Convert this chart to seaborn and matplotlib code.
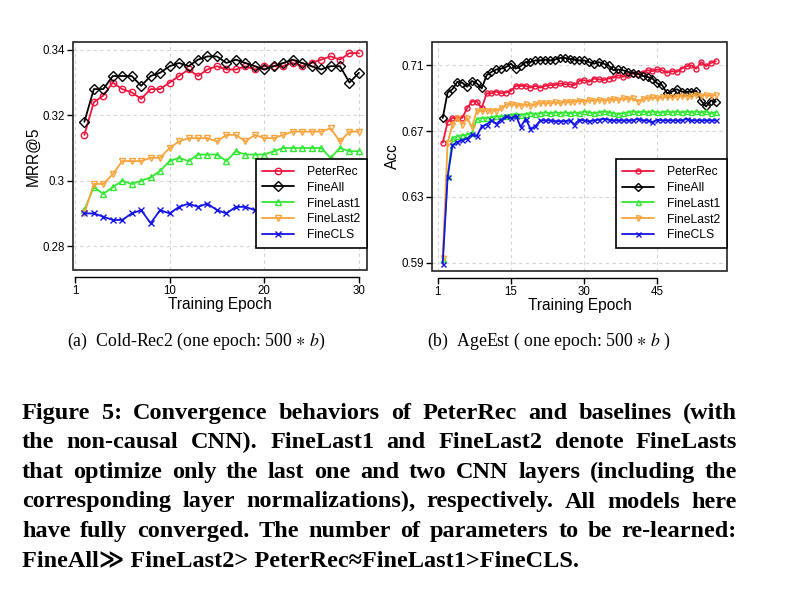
import numpy as np
import pandas as pd
import matplotlib
matplotlib.use('Agg')
import matplotlib.pyplot as plt
from matplotlib.patches import Rectangle
import seaborn as sns

# ---- data ----
models = ['PeterRec', 'FineAll', 'FineLast1', 'FineLast2', 'FineCLS']

cold_epochs = list(range(1, 31))
cold_peterrec = [0.314, 0.324, 0.326, 0.330, 0.328, 0.327, 0.325, 0.328, 0.328, 0.330,
                 0.332, 0.334, 0.332, 0.334, 0.335, 0.334, 0.334, 0.335, 0.334, 0.335,
                 0.335, 0.335, 0.336, 0.335, 0.336, 0.337, 0.338, 0.337, 0.339, 0.339]
cold_fineall = [0.318, 0.328, 0.328, 0.332, 0.332, 0.332, 0.329, 0.332, 0.333, 0.335,
                0.336, 0.335, 0.337, 0.338, 0.338, 0.336, 0.337, 0.336, 0.335, 0.334,
                0.335, 0.336, 0.337, 0.336, 0.335, 0.334, 0.335, 0.335, 0.330, 0.333]
cold_finelast1 = [0.291, 0.298, 0.296, 0.298, 0.300, 0.299, 0.300, 0.301, 0.303, 0.306,
                  0.307, 0.306, 0.308, 0.308, 0.308, 0.306, 0.309, 0.308, 0.308, 0.308,
                  0.309, 0.310, 0.310, 0.310, 0.310, 0.310, 0.307, 0.310, 0.309, 0.309]
cold_finelast2 = [0.290, 0.299, 0.299, 0.302, 0.306, 0.306, 0.306, 0.307, 0.307, 0.310,
                  0.312, 0.313, 0.313, 0.313, 0.312, 0.314, 0.314, 0.312, 0.314, 0.313,
                  0.313, 0.314, 0.315, 0.315, 0.315, 0.315, 0.316, 0.312, 0.315, 0.315]
cold_finecls = [0.290, 0.290, 0.289, 0.288, 0.288, 0.290, 0.291, 0.287, 0.291, 0.290,
                0.292, 0.293, 0.292, 0.293, 0.291, 0.290, 0.292, 0.292, 0.291, 0.292,
                0.291, 0.292, 0.291, 0.292, 0.292, 0.291, 0.292, 0.292, 0.291, 0.292]

age_epochs = list(range(1, 58))
age_peterrec = [0.663, 0.6755, 0.678, 0.678, 0.678, 0.684, 0.688, 0.688, 0.684, 0.693,
                0.693, 0.694, 0.693, 0.6935, 0.6945, 0.6975, 0.6975, 0.6975, 0.6965, 0.6975,
                0.6965, 0.6975, 0.698, 0.698, 0.699, 0.6985, 0.6985, 0.698, 0.7005, 0.701,
                0.700, 0.702, 0.7015, 0.701, 0.702, 0.7025, 0.704, 0.703, 0.704, 0.705,
                0.7045, 0.7055, 0.707, 0.7065, 0.7075, 0.707, 0.7055, 0.7065, 0.706, 0.708,
                0.7095, 0.710, 0.708, 0.712, 0.7095, 0.7115, 0.7125]
age_fineall = [0.678, 0.6935, 0.6955, 0.700, 0.6995, 0.697, 0.7005, 0.699, 0.696, 0.704,
               0.706, 0.7075, 0.708, 0.709, 0.711, 0.708, 0.7095, 0.712, 0.712, 0.713,
               0.713, 0.7135, 0.713, 0.7135, 0.7145, 0.7145, 0.714, 0.7135, 0.713, 0.713,
               0.712, 0.711, 0.712, 0.711, 0.710, 0.707, 0.7075, 0.707, 0.706, 0.7055,
               0.705, 0.7035, 0.703, 0.702, 0.699, 0.698, 0.693, 0.694, 0.6955, 0.694,
               0.694, 0.694, 0.6945, 0.6885, 0.685, 0.6885, 0.688]
age_finelast1 = [0.5925, 0.6425, 0.666, 0.667, 0.6675, 0.668, 0.669, 0.6775, 0.678, 0.678,
                 0.6785, 0.679, 0.679, 0.6795, 0.680, 0.6805, 0.680, 0.6805, 0.681, 0.6805,
                 0.681, 0.6815, 0.681, 0.6815, 0.681, 0.6815, 0.681, 0.6815, 0.681, 0.682,
                 0.6815, 0.681, 0.6815, 0.682, 0.6815, 0.681, 0.6805, 0.681, 0.6815, 0.682,
                 0.6815, 0.682, 0.6815, 0.682, 0.6815, 0.6815, 0.682, 0.6815, 0.682, 0.6815,
                 0.682, 0.6815, 0.682, 0.6815, 0.682, 0.681, 0.6815]
age_finelast2 = [0.593, 0.663, 0.674, 0.678, 0.674, 0.678, 0.6725, 0.6825, 0.6825, 0.6825,
                 0.6825, 0.6825, 0.684, 0.686, 0.6865, 0.686, 0.6855, 0.6865, 0.6855, 0.6865,
                 0.687, 0.687, 0.687, 0.6875, 0.687, 0.688, 0.6875, 0.688, 0.6885, 0.688,
                 0.689, 0.6885, 0.689, 0.6885, 0.689, 0.6895, 0.689, 0.690, 0.6895, 0.690,
                 0.688, 0.6895, 0.690, 0.6905, 0.690, 0.6905, 0.691, 0.6905, 0.691, 0.6915,
                 0.691, 0.6915, 0.692, 0.6915, 0.692, 0.6915, 0.692]
age_finecls = [0.5895, 0.642, 0.6615, 0.6635, 0.6645, 0.6655, 0.668, 0.667, 0.673, 0.674,
               0.6765, 0.6745, 0.677, 0.679, 0.678, 0.6795, 0.6725, 0.6775, 0.6715, 0.673,
               0.6765, 0.6765, 0.6765, 0.676, 0.676, 0.676, 0.6765, 0.674, 0.677, 0.6765,
               0.676, 0.6765, 0.677, 0.6775, 0.677, 0.6765, 0.6765, 0.6765, 0.6765, 0.6765,
               0.6775, 0.6765, 0.6765, 0.6755, 0.677, 0.6765, 0.6765, 0.6765, 0.6765, 0.6765,
               0.6775, 0.6765, 0.6765, 0.6765, 0.6765, 0.6765, 0.6765]

cold_yticks = [0.28, 0.30, 0.32, 0.34]
cold_ytick_labels = ['0.28', '0.3', '0.32', '0.34']
cold_xticks = [0, 10, 20, 30]
cold_xtick_labels = ['1', '10', '20', '30']
age_yticks = [0.59, 0.63, 0.67, 0.71]
age_ytick_labels = ['0.59', '0.63', '0.67', '0.71']
age_xticks = [0, 15, 30, 45]
age_xtick_labels = ['1', '15', '30', '45']

caption_lines = [
    "Figure 5: Convergence behaviors of PeterRec and baselines (with",
    "the non-causal CNN). FineLast1 and FineLast2 denote FineLasts",
    "that optimize only the last one and two CNN layers (including the",
    "corresponding layer normalizations), respectively. All models here",
    "have fully converged. The number of parameters to be re-learned:",
    "FineAll\u226b FineLast2> PeterRec\u2248FineLast1>FineCLS.",
]

# ---- styling ----
colors = {'PeterRec': '#f0143c', 'FineAll': '#000000', 'FineLast1': '#33e833',
          'FineLast2': '#f9a43c', 'FineCLS': '#1414e6'}
markers = {'PeterRec': 'o', 'FineAll': 'D', 'FineLast1': '^', 'FineLast2': 'v', 'FineCLS': 'x'}

sns.set_theme(style='white')
plt.rcParams['font.family'] = ['Liberation Sans', 'DejaVu Sans']
plt.rcParams['mathtext.fontset'] = 'stix'
plt.rcParams['text.color'] = 'black'
plt.rcParams['axes.labelcolor'] = 'black'

W, H = 795, 607
fig = plt.figure(figsize=(W / 100, H / 100), dpi=100)


def px_axes(x0, y0, x1, y1):
    return fig.add_axes([x0 / W, 1 - y1 / H, (x1 - x0) / W, (y1 - y0) / H])


def draw_panel(ax, epochs, series, xlim, ylim, xticks, xlabels, yticks, ylabels,
               ylabel, msize, legend_y):
    ax.set_axisbelow(True)
    ax.grid(True, ls=(0, (3, 3)), color='#d4d4d4', lw=0.8)
    for name, vals in zip(models, series):
        c = colors[name]
        sns.lineplot(x=epochs, y=vals, ax=ax, color=c, marker=markers[name],
                     markersize=msize, mfc='none', mec=c, mew=1.0, lw=1.3,
                     label=name, legend=False)
    ax.set_xlim(*xlim)
    ax.set_ylim(*ylim)
    ax.set_xticks(xticks)
    ax.set_xticklabels(xlabels)
    ax.set_yticks(yticks)
    ax.set_yticklabels(ylabels)
    for s in ['top', 'right', 'left']:
        ax.spines[s].set_visible(False)
    ax.spines['bottom'].set_position(('outward', 5))
    ax.spines['bottom'].set_bounds(xticks[0], xticks[-1])
    ax.spines['bottom'].set_linewidth(1.0)
    ax.spines['bottom'].set_color('black')
    ax.add_patch(Rectangle((0, 0), 1, 1, transform=ax.transAxes, fill=False,
                           lw=1.2, ec='#222222', clip_on=False, zorder=5))
    ax.tick_params(axis='both', direction='out', length=4, width=1.0,
                   labelsize=8.3, colors='black', pad=2, left=True, bottom=True)
    ax.set_xlabel('Training Epoch', fontsize=11.2, labelpad=0)
    ax.set_ylabel(ylabel, fontsize=11.2, labelpad=1)
    leg = ax.legend(loc='lower right', bbox_to_anchor=(1.0, legend_y), frameon=True,
                    fancybox=False, edgecolor='black', framealpha=1, fontsize=8.7,
                    handlelength=2.6, handletextpad=1.1, labelspacing=0.32,
                    borderpad=0.55, borderaxespad=0)
    leg.get_frame().set_linewidth(1.2)
    leg.set_zorder(6)


ax1 = px_axes(73, 42, 367, 270)
draw_panel(ax1, cold_epochs,
           [cold_peterrec, cold_fineall, cold_finelast1, cold_finelast2, cold_finecls],
           (-0.2, 30.85), (0.2727, 0.3424), cold_xticks, cold_xtick_labels,
           cold_yticks, cold_ytick_labels, 'MRR@5', 4.6, 0.097)

ax2 = px_axes(432, 42, 727, 271)
draw_panel(ax2, age_epochs,
           [age_peterrec, age_fineall, age_finelast1, age_finelast2, age_finecls],
           (-1.2, 59.3), (0.585, 0.7242), age_xticks, age_xtick_labels,
           age_yticks, age_ytick_labels, 'Acc', 3.6, 0.10)

# ---- sub-captions ----
serif = ['Liberation Serif', 'DejaVu Serif', 'DejaVu Sans']
fig.text(67 / W, 1 - 346 / H, r'(a)  Cold-Rec2 (one epoch: 500 $\ast$ $b$)',
         family=serif, fontsize=12.8, va='baseline', ha='left', color='black')
fig.text(427 / W, 1 - 346 / H, r'(b)  AgeEst ( one epoch: 500 $\ast$ $b$ )',
         family=serif, fontsize=12.8, va='baseline', ha='left', color='black')

# ---- justified bold caption ----
renderer = fig.canvas.get_renderer()
x_left, x_right = 22, 737
base0, step = 419, 29.5
for i, line in enumerate(caption_lines):
    y = 1 - (base0 + i * step) / H
    kw = dict(family=serif, fontsize=17.5, fontweight='bold', va='baseline',
              ha='left', color='black')
    if i == len(caption_lines) - 1:
        fig.text(x_left / W, y, line, **kw)
        continue
    words = line.split(' ')
    texts = [fig.text(0, y, w, **kw) for w in words]
    widths = [t.get_window_extent(renderer).width for t in texts]
    gap = ((x_right - x_left) - sum(widths)) / (len(words) - 1)
    x = x_left
    for t, w in zip(texts, widths):
        t.set_x(x / W)
        x += w + gap

fig.savefig('out.png', dpi=100)
